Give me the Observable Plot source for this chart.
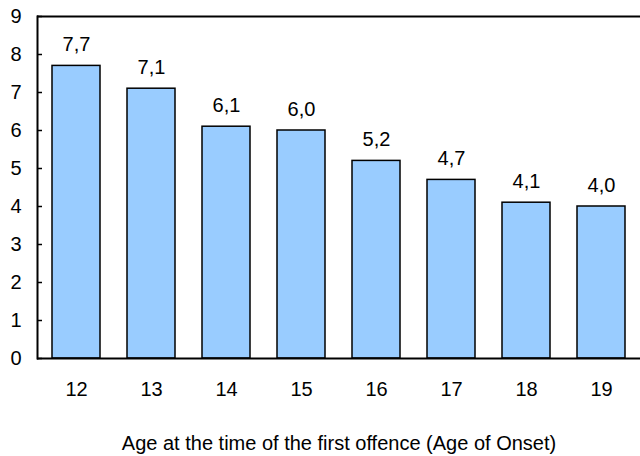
<!DOCTYPE html>
<html>
<head>
<meta charset="utf-8">
<script src="https://cdn.jsdelivr.net/npm/d3@7"></script>
<script src="https://cdn.jsdelivr.net/npm/@observablehq/plot@0.6"></script>
<style>
  html, body { margin: 0; padding: 0; background: #fff; }
  svg { display: block; }
</style>
</head>
<body>
<div id="chart"></div>
<script>
const ages = ["12", "13", "14", "15", "16", "17", "18", "19"];
const values = [7.7, 7.1, 6.1, 6.0, 5.2, 4.7, 4.1, 4.0];
const yTicks = [0, 1, 2, 3, 4, 5, 6, 7, 8, 9];
const xTitle = "Age at the time of the first offence (Age of Onset)";

const data = ages.map((a, i) => ({age: a, value: values[i], label: values[i].toFixed(1).replace(".", ",")}));

const font = "Liberation Sans, Arial, sans-serif";

const chart = Plot.plot({
  width: 640,
  height: 456,
  marginLeft: 37,
  marginRight: 0,
  marginTop: 16,
  marginBottom: 98,
  style: {fontFamily: font, fontSize: "20px", color: "#000", background: "#fff"},
  x: {domain: ages, paddingInner: 0.36, paddingOuter: 0.18, label: null},
  y: {domain: [0, 9], label: null},
  marks: [
    Plot.barY(data, {x: "age", y: "value", fill: "#99ccff", stroke: "#000", strokeWidth: 1.5}),
    Plot.text(data, {x: "age", y: "value", text: "label", lineAnchor: "bottom", dy: -15, fontSize: 20, fill: "#000"}),
    Plot.axisY({ticks: yTicks, tickSize: 0, tickPadding: 16, label: null, tickFormat: d => String(d), fontSize: 20}),
    Plot.axisY({ticks: yTicks, tickSize: 5, dx: 5, text: null, label: null, strokeWidth: 1.5}),
    Plot.axisX({tickSize: 0, tickPadding: 23, label: null, fontSize: 20}),
    Plot.ruleY([0, 9], {stroke: "#000", strokeWidth: 2}),
    Plot.frame({anchor: "left", stroke: "#000", strokeWidth: 2}),
    Plot.text([xTitle], {frameAnchor: "bottom", lineAnchor: "bottom", dy: 91, fontSize: 20, fill: "#000"})
  ]
});
document.getElementById("chart").appendChild(chart);
</script>
</body>
</html>
